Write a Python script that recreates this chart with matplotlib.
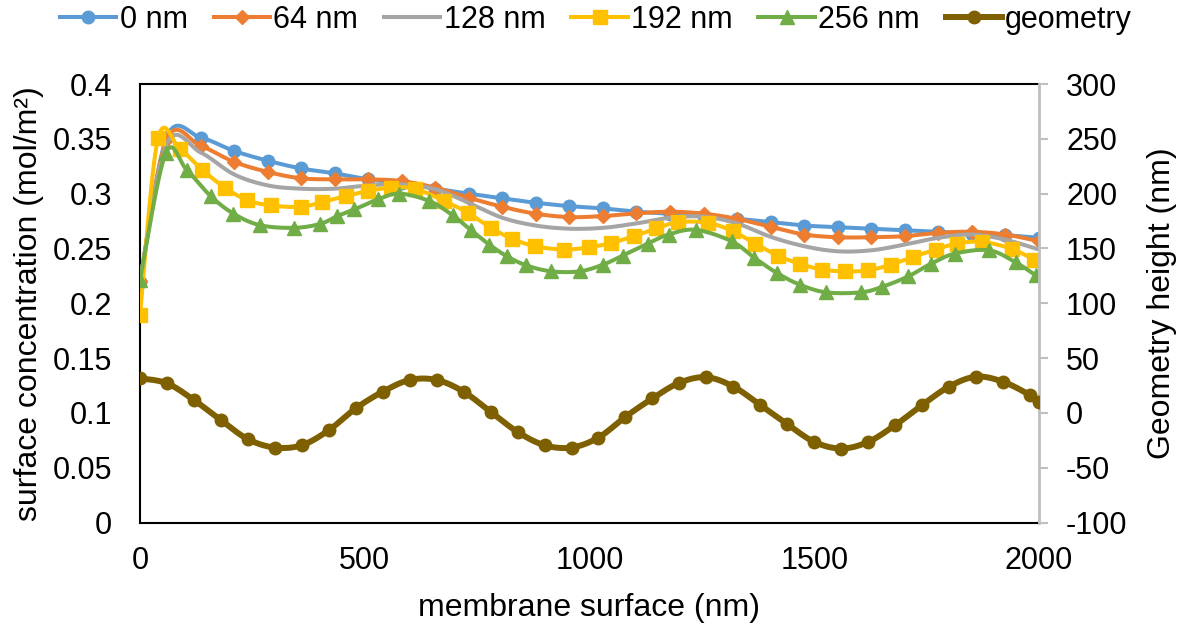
import numpy as np
import matplotlib
matplotlib.use("Agg")
import matplotlib.pyplot as plt
from matplotlib.lines import Line2D

plt.rcParams['font.family'] = ['Liberation Sans', 'DejaVu Sans']

# ---------------- data ----------------
x_main = [0, 60, 135, 209, 284, 358, 433, 508, 582, 657, 731, 806, 880, 955,
          1030, 1104, 1179, 1254, 1328, 1403, 1478, 1552, 1627, 1701, 1776,
          1851, 1925, 2000]
c_0nm = [0.219, 0.352, 0.351, 0.339, 0.330, 0.323, 0.3185, 0.313, 0.3095,
         0.3045, 0.300, 0.2957, 0.2917, 0.2886, 0.2865, 0.2835, 0.2817, 0.2795,
         0.2771, 0.274, 0.2709, 0.2694, 0.268, 0.2666, 0.2652, 0.2636, 0.2621,
         0.2597]
c_64nm = [0.220, 0.350, 0.3435, 0.329, 0.3198, 0.314, 0.313, 0.313, 0.3115,
          0.3054, 0.2963, 0.288, 0.2817, 0.2786, 0.2795, 0.282, 0.2835, 0.2817,
          0.277, 0.2697, 0.2627, 0.2602, 0.2602, 0.2612, 0.2642, 0.2652,
          0.2627, 0.2566]
c_128nm = [0.220, 0.346, 0.3375, 0.3176, 0.3075, 0.3045, 0.3045, 0.3075,
           0.3085, 0.304, 0.2917, 0.278, 0.2709, 0.268, 0.2688, 0.2728, 0.278,
           0.279, 0.2728, 0.2606, 0.252, 0.2474, 0.2483, 0.2535, 0.2597,
           0.2627, 0.258, 0.249]

x_192 = [0, 40, 89, 139, 189, 239, 291, 359, 406, 458, 508, 558, 612, 677,
         729, 781, 827, 879, 944, 1000, 1048, 1099, 1149, 1197, 1263, 1319,
         1368, 1419, 1468, 1518, 1569, 1620, 1670, 1720, 1770, 1818, 1874,
         1939, 1989]
c_192nm = [0.1895, 0.3503, 0.3405, 0.3216, 0.3054, 0.294, 0.2892, 0.288,
           0.2925, 0.2978, 0.3024, 0.3054, 0.3045, 0.2932, 0.2826, 0.2688,
           0.259, 0.252, 0.249, 0.2511, 0.255, 0.2612, 0.2682, 0.274, 0.2734,
           0.2657, 0.2545, 0.2435, 0.2359, 0.2307, 0.2291, 0.230, 0.2352,
           0.2423, 0.249, 0.2545, 0.256, 0.2496, 0.2398]

x_256 = [0, 57, 104, 157, 208, 267, 343, 401, 439, 477, 529, 577, 644, 696,
         737, 777, 816, 859, 915, 978, 1030, 1074, 1130, 1176, 1236, 1316,
         1367, 1417, 1468, 1527, 1603, 1650, 1709, 1759, 1813, 1889, 1948,
         1993]
c_256nm = [0.2215, 0.3368, 0.3216, 0.2978, 0.2817, 0.2712, 0.2688, 0.2724,
           0.2795, 0.2856, 0.2947, 0.300, 0.2932, 0.2801, 0.2664, 0.2535,
           0.2429, 0.2346, 0.2291, 0.2291, 0.2352, 0.2435, 0.2545, 0.2627,
           0.267, 0.2566, 0.2414, 0.2276, 0.2169, 0.2099, 0.2099, 0.2148,
           0.2245, 0.2359, 0.2453, 0.2483, 0.2373, 0.2254]

x_geom = [0, 60, 120, 180, 240, 300, 360, 420, 480, 540, 600, 660, 720, 780,
          840, 900, 960, 1020, 1080, 1140, 1200, 1260, 1320, 1380, 1440, 1500,
          1560, 1620, 1680, 1740, 1800, 1860, 1920, 1980, 2000]
h_geom = [31.5, 27, 11.7, -6.6, -24, -31.6, -29.5, -15.8, 4.1, 19.3, 30, 30,
          19.3, 1, -17.4, -29.5, -31.6, -22.5, -3.6, 13.2, 27.5, 32.5, 24,
          7.1, -10.3, -26.5, -32.5, -26.5, -11.2, 7.1, 24, 33, 28.4, 16.2, 10]

labels = ['0 nm', '64 nm', '128 nm', '192 nm', '256 nm', 'geometry']
colors = ['#5B9BD5', '#ED7D31', '#A5A5A5', '#FFC000', '#70AD47', '#7F6000']
x_ticks = [0, 500, 1000, 1500, 2000]
y_left_ticks = [0, 0.05, 0.1, 0.15, 0.2, 0.25, 0.3, 0.35, 0.4]
y_left_labels = ['0', '0.05', '0.1', '0.15', '0.2', '0.25', '0.3', '0.35', '0.4']
y_right_ticks = [-100, -50, 0, 50, 100, 150, 200, 250, 300]


def smooth(x, y, n=16):
    """Excel-like smoothed line (Catmull-Rom Bezier) through the points."""
    pts = np.column_stack([np.asarray(x, float), np.asarray(y, float)])
    P = np.vstack([pts[0], pts, pts[-1]])
    t = np.linspace(0, 1, n)[:, None]
    out = []
    for i in range(1, len(P) - 2):
        p0, p1, p2, p3 = P[i - 1], P[i], P[i + 1], P[i + 2]
        c1 = p1 + (p2 - p0) / 6.0
        c2 = p2 - (p3 - p1) / 6.0
        seg = ((1 - t) ** 3) * p1 + 3 * ((1 - t) ** 2) * t * c1 \
            + 3 * (1 - t) * t ** 2 * c2 + t ** 3 * p2
        out.append(seg if i == 1 else seg[1:])
    s = np.vstack(out)
    return s[:, 0], s[:, 1]


fig = plt.figure(figsize=(11.83, 6.30), dpi=100)
ax = fig.add_axes([140 / 1183, 1 - 522.5 / 630, (1039 - 140) / 1183, (522.5 - 84) / 630])
ax2 = ax.twinx()

series = [
    (x_main, c_0nm, 'o', 9),
    (x_main, c_64nm, 'D', 6.8),
    (x_main, c_128nm, None, 0),
    (x_192, c_192nm, 's', 9.5),
    (x_256, c_256nm, '^', 9.5),
]
lw = 2.9
for i, (xs, ys, mk, ms) in enumerate(series):
    sx, sy = smooth(xs, ys)
    ax.plot(sx, sy, color=colors[i], lw=lw, solid_capstyle='round', zorder=3 + i)
    if mk:
        ax.plot(xs, ys, ls='none', marker=mk, ms=ms, color=colors[i],
                mec=colors[i], zorder=3 + i)

gx, gy = smooth(x_geom, h_geom)
ax2.plot(gx, gy, color=colors[5], lw=4.3, zorder=3)
ax2.plot(x_geom, h_geom, ls='none', marker='o', ms=9, color=colors[5], zorder=3)

ax.set_xlim(0, 2000)
ax.set_ylim(0, 0.4)
ax2.set_ylim(-100, 300)
ax.set_xticks(x_ticks)
ax.set_xticklabels([str(v) for v in x_ticks])
ax.set_yticks(y_left_ticks)
ax.set_yticklabels(y_left_labels)
ax2.set_yticks(y_right_ticks)
ax2.set_yticklabels([str(v) for v in y_right_ticks])

fs = 22
ax.tick_params(axis='x', length=0, pad=17, labelsize=fs)
ax.tick_params(axis='y', length=0, pad=20, labelsize=fs)
ax2.tick_params(axis='y', length=6.5, width=1.5, color='#BFBFBF', pad=13,
                labelsize=fs, direction='out')

for a in (ax, ax2):
    for sp in a.spines.values():
        sp.set_linewidth(1.5)
        sp.set_color('black')
ax2.spines['right'].set_color('#BFBFBF')
ax2.spines['right'].set_linewidth(2)
ax.spines['right'].set_visible(False)
ax2.spines['left'].set_visible(False)
ax2.spines['top'].set_visible(False)
ax2.spines['bottom'].set_visible(False)

ax.set_xlabel('membrane surface (nm)', fontsize=23, labelpad=12)
ax.set_ylabel('surface concentration (mol/m²)', fontsize=23, labelpad=6)
ax2.set_ylabel('Geometry height (nm)', fontsize=23, labelpad=14)

handles = []
mks = ['o', 'D', None, 's', '^', 'o']
mss = [9, 6.8, 0, 9.5, 9.5, 9]
for i in range(6):
    handles.append(Line2D([], [], color=colors[i], lw=(4.3 if i == 5 else lw),
                          marker=mks[i] if mks[i] else None, ms=mss[i]))
fig.legend(handles, labels, loc='center', bbox_to_anchor=(596 / 1183, 1 - 20 / 630),
           ncol=6, frameon=False, fontsize=fs, handlelength=1.85,
           handletextpad=0.1, columnspacing=0.85, borderaxespad=0)

fig.savefig('out.png', dpi=100)
